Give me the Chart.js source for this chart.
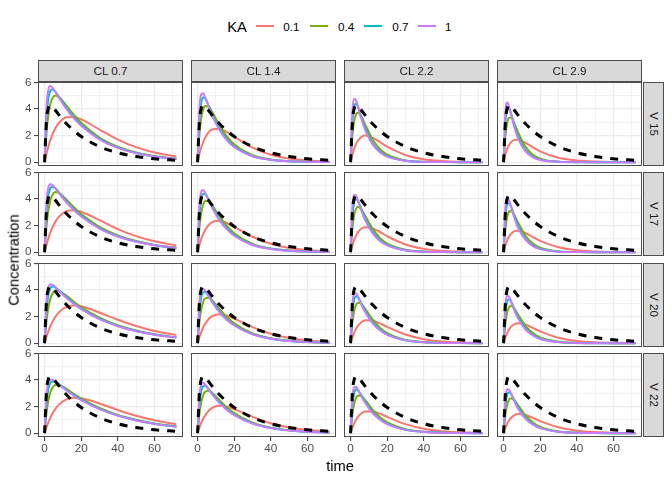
<!DOCTYPE html>
<html lang="en">
<head>
    <meta charset="UTF-8">
    <title>Concentration by CL, V and KA</title>
    <script src="https://cdn.jsdelivr.net/npm/chart.js@4.4.1/dist/chart.umd.min.js"></script>
    <style>
        * {
            margin: 0;
            padding: 0;
            box-sizing: border-box;
        }

        body {
            width: 672px;
            height: 480px;
            background: #fff;
            position: relative;
            overflow: hidden;
            font-family: "Liberation Sans", Arial, sans-serif;
        }

        .box {
            position: absolute;
        }

        /* facet strips */
        .strip {
            position: absolute;
            background: #D9D9D9;
            border: 1px solid #4D4D4D;
        }

        .txt {
            position: absolute;
            white-space: nowrap;
            line-height: 1;
        }

        .key {
            position: absolute;
            height: 2px;
            width: 18px;
        }
    </style>
</head>
<body>
    <script>
        // ---- data ----
        const times = [0, 1, 2, 3, 4, 6, 8, 12, 16, 20, 30, 40, 50, 60, 72];
        const kaLevels = ['0.1', '0.4', '0.7', '1'];
        const clLevels = ['0.7', '1.4', '2.2', '2.9'];
        const vLevels = ['15', '17', '20', '22'];

        const xGrid = [0, 10, 20, 30, 40, 50, 60, 70];
        const xLabels = ['0', '', '20', '', '40', '', '60', ''];
        const yGrid = [0, 1, 2, 3, 4, 5, 6];
        const yLabels = ['0', '', '2', '', '4', '', '6'];

        // dashed black curve, the same in every panel
        const reference = [0, 3.07, 4.05, 4.27, 4.21, 3.89, 3.53, 2.89, 2.37, 1.94, 1.17, 0.71, 0.43, 0.26, 0.14];

        // one array per KA level (0.1, 0.4, 0.7, 1) in each panel
        const V15_CL07 = [
            [0, 0.62, 1.15, 1.61, 1.99, 2.59, 2.99, 3.38, 3.40, 3.22, 2.46, 1.70, 1.13, 0.73, 0.43],
            [0, 2.14, 3.48, 4.29, 4.74, 5.02, 4.89, 4.25, 3.56, 2.97, 1.86, 1.17, 0.73, 0.46, 0.26],
            [0, 3.27, 4.75, 5.34, 5.49, 5.29, 4.89, 4.08, 3.39, 2.81, 1.76, 1.10, 0.69, 0.43, 0.25],
            [0, 4.10, 5.42, 5.73, 5.67, 5.27, 4.81, 3.99, 3.31, 2.75, 1.72, 1.08, 0.68, 0.43, 0.24]
        ];
        const V15_CL14 = [
            [0, 0.61, 1.10, 1.50, 1.81, 2.24, 2.46, 2.51, 2.27, 1.93, 1.10, 0.56, 0.27, 0.12, 0.05],
            [0, 2.09, 3.31, 3.95, 4.23, 4.18, 3.77, 2.77, 1.94, 1.34, 0.53, 0.21, 0.08, 0.03, 0.01],
            [0, 3.19, 4.49, 4.87, 4.83, 4.28, 3.62, 2.51, 1.73, 1.19, 0.47, 0.18, 0.07, 0.03, 0.01],
            [0, 3.99, 5.11, 5.19, 4.93, 4.18, 3.48, 2.40, 1.65, 1.14, 0.45, 0.18, 0.07, 0.03, 0.01]
        ];
        const V15_CL22 = [
            [0, 0.59, 1.04, 1.38, 1.63, 1.91, 2.00, 1.85, 1.52, 1.17, 0.54, 0.22, 0.09, 0.03, 0.01],
            [0, 2.04, 3.12, 3.61, 3.73, 3.41, 2.83, 1.72, 0.99, 0.56, 0.13, 0.03, 0.01, 0, 0],
            [0, 3.10, 4.21, 4.40, 4.18, 3.37, 2.58, 1.45, 0.81, 0.45, 0.10, 0.02, 0.01, 0, 0],
            [0, 3.87, 4.77, 4.64, 4.20, 3.22, 2.41, 1.34, 0.75, 0.42, 0.10, 0.02, 0.01, 0, 0]
        ];
        const V15_CL29 = [
            [0, 0.58, 1.00, 1.29, 1.49, 1.68, 1.69, 1.45, 1.12, 0.82, 0.33, 0.13, 0.05, 0.02, 0.01],
            [0, 1.99, 2.97, 3.34, 3.35, 2.88, 2.22, 1.16, 0.56, 0.27, 0.04, 0.01, 0, 0, 0],
            [0, 3.02, 3.99, 4.03, 3.69, 2.75, 1.93, 0.90, 0.42, 0.19, 0.03, 0, 0, 0, 0],
            [0, 3.77, 4.50, 4.22, 3.66, 2.57, 1.76, 0.81, 0.37, 0.17, 0.03, 0, 0, 0, 0]
        ];
        const V17_CL07 = [
            [0, 0.55, 1.02, 1.43, 1.78, 2.32, 2.70, 3.09, 3.16, 3.04, 2.41, 1.74, 1.21, 0.82, 0.51],
            [0, 1.90, 3.09, 3.82, 4.24, 4.53, 4.45, 3.95, 3.38, 2.88, 1.91, 1.26, 0.84, 0.55, 0.34],
            [0, 2.89, 4.22, 4.76, 4.92, 4.79, 4.47, 3.81, 3.23, 2.74, 1.82, 1.20, 0.80, 0.53, 0.32],
            [0, 3.63, 4.82, 5.12, 5.09, 4.78, 4.41, 3.74, 3.18, 2.69, 1.78, 1.18, 0.78, 0.52, 0.32]
        ];
        const V17_CL14 = [
            [0, 0.54, 0.98, 1.34, 1.63, 2.04, 2.27, 2.37, 2.20, 1.91, 1.16, 0.63, 0.32, 0.16, 0.06],
            [0, 1.86, 2.95, 3.56, 3.83, 3.85, 3.53, 2.70, 1.97, 1.42, 0.63, 0.28, 0.12, 0.05, 0.02],
            [0, 2.83, 4.01, 4.39, 4.39, 3.97, 3.43, 2.48, 1.79, 1.28, 0.56, 0.25, 0.11, 0.05, 0.02],
            [0, 3.55, 4.57, 4.69, 4.49, 3.90, 3.32, 2.39, 1.72, 1.24, 0.54, 0.24, 0.10, 0.05, 0.02]
        ];
        const V17_CL22 = [
            [0, 0.52, 0.94, 1.25, 1.49, 1.78, 1.88, 1.79, 1.52, 1.20, 0.58, 0.25, 0.10, 0.04, 0.01],
            [0, 1.81, 2.81, 3.28, 3.43, 3.21, 2.73, 1.77, 1.08, 0.65, 0.18, 0.05, 0.01, 0, 0],
            [0, 2.76, 3.79, 4.01, 3.86, 3.21, 2.54, 1.53, 0.91, 0.54, 0.15, 0.04, 0.01, 0, 0],
            [0, 3.45, 4.30, 4.25, 3.90, 3.09, 2.40, 1.43, 0.85, 0.51, 0.14, 0.04, 0.01, 0, 0]
        ];
        const V17_CL29 = [
            [0, 0.51, 0.90, 1.18, 1.37, 1.58, 1.62, 1.43, 1.14, 0.85, 0.37, 0.14, 0.05, 0.02, 0.01],
            [0, 1.77, 2.68, 3.06, 3.11, 2.76, 2.20, 1.24, 0.65, 0.34, 0.06, 0.01, 0, 0, 0],
            [0, 2.70, 3.61, 3.71, 3.46, 2.68, 1.96, 1.00, 0.51, 0.26, 0.05, 0.01, 0, 0, 0],
            [0, 3.37, 4.08, 3.90, 3.46, 2.53, 1.81, 0.92, 0.46, 0.23, 0.04, 0.01, 0, 0, 0]
        ];
        const V20_CL07 = [
            [0, 0.47, 0.88, 1.23, 1.53, 2.01, 2.36, 2.74, 2.84, 2.78, 2.31, 1.76, 1.29, 0.92, 0.61],
            [0, 1.62, 2.65, 3.28, 3.66, 3.95, 3.92, 3.56, 3.12, 2.72, 1.92, 1.35, 0.95, 0.67, 0.44],
            [0, 2.47, 3.61, 4.09, 4.26, 4.19, 3.96, 3.46, 3.01, 2.61, 1.84, 1.30, 0.92, 0.65, 0.42],
            [0, 3.10, 4.13, 4.41, 4.41, 4.19, 3.91, 3.40, 2.96, 2.57, 1.81, 1.28, 0.90, 0.64, 0.42]
        ];
        const V20_CL14 = [
            [0, 0.46, 0.84, 1.16, 1.42, 1.80, 2.03, 2.18, 2.07, 1.85, 1.21, 0.71, 0.39, 0.21, 0.10],
            [0, 1.59, 2.55, 3.09, 3.36, 3.43, 3.22, 2.57, 1.97, 1.49, 0.74, 0.37, 0.18, 0.09, 0.04],
            [0, 2.42, 3.46, 3.82, 3.86, 3.57, 3.15, 2.40, 1.81, 1.37, 0.68, 0.34, 0.17, 0.08, 0.04],
            [0, 3.04, 3.95, 4.09, 3.97, 3.52, 3.07, 2.32, 1.75, 1.33, 0.66, 0.33, 0.16, 0.08, 0.04]
        ];
        const V20_CL22 = [
            [0, 0.45, 0.81, 1.09, 1.31, 1.60, 1.73, 1.70, 1.49, 1.23, 0.65, 0.30, 0.13, 0.06, 0.02],
            [0, 1.56, 2.44, 2.88, 3.05, 2.94, 2.58, 1.79, 1.17, 0.76, 0.25, 0.09, 0.03, 0.01, 0],
            [0, 2.37, 3.30, 3.54, 3.46, 2.98, 2.44, 1.58, 1.02, 0.66, 0.22, 0.07, 0.02, 0.01, 0],
            [0, 2.97, 3.75, 3.76, 3.52, 2.89, 2.33, 1.50, 0.97, 0.62, 0.21, 0.07, 0.02, 0.01, 0]
        ];
        const V20_CL29 = [
            [0, 0.44, 0.78, 1.04, 1.23, 1.44, 1.51, 1.40, 1.15, 0.89, 0.41, 0.17, 0.07, 0.03, 0.01],
            [0, 1.53, 2.35, 2.71, 2.81, 2.58, 2.14, 1.31, 0.76, 0.43, 0.10, 0.02, 0.01, 0, 0],
            [0, 2.32, 3.16, 3.31, 3.15, 2.55, 1.95, 1.11, 0.62, 0.35, 0.08, 0.02, 0, 0, 0],
            [0, 2.91, 3.59, 3.49, 3.17, 2.44, 1.83, 1.03, 0.58, 0.32, 0.08, 0.02, 0, 0, 0]
        ];
        const V22_CL07 = [
            [0, 0.43, 0.80, 1.12, 1.40, 1.85, 2.17, 2.54, 2.66, 2.63, 2.24, 1.75, 1.31, 0.97, 0.67],
            [0, 1.47, 2.42, 3.00, 3.35, 3.63, 3.63, 3.33, 2.96, 2.61, 1.90, 1.38, 1.01, 0.73, 0.50],
            [0, 2.25, 3.29, 3.75, 3.90, 3.86, 3.67, 3.25, 2.86, 2.52, 1.83, 1.33, 0.97, 0.71, 0.48],
            [0, 2.82, 3.77, 4.03, 4.05, 3.87, 3.64, 3.21, 2.82, 2.48, 1.81, 1.32, 0.96, 0.70, 0.48]
        ];
        const V22_CL14 = [
            [0, 0.42, 0.77, 1.07, 1.31, 1.67, 1.90, 2.06, 1.99, 1.81, 1.23, 0.75, 0.43, 0.24, 0.12],
            [0, 1.45, 2.33, 2.84, 3.10, 3.20, 3.03, 2.48, 1.94, 1.51, 0.80, 0.42, 0.22, 0.12, 0.06],
            [0, 2.21, 3.17, 3.52, 3.57, 3.34, 2.99, 2.33, 1.81, 1.40, 0.74, 0.39, 0.21, 0.11, 0.05],
            [0, 2.77, 3.62, 3.77, 3.68, 3.30, 2.92, 2.26, 1.75, 1.36, 0.72, 0.38, 0.20, 0.11, 0.05]
        ];
        const V22_CL22 = [
            [0, 0.41, 0.74, 1.01, 1.22, 1.50, 1.63, 1.64, 1.47, 1.23, 0.68, 0.33, 0.15, 0.07, 0.02],
            [0, 1.42, 2.24, 2.66, 2.84, 2.78, 2.48, 1.78, 1.21, 0.82, 0.30, 0.11, 0.04, 0.02, 0],
            [0, 2.17, 3.03, 3.28, 3.23, 2.83, 2.36, 1.60, 1.07, 0.72, 0.26, 0.10, 0.04, 0.01, 0],
            [0, 2.71, 3.45, 3.49, 3.29, 2.76, 2.27, 1.52, 1.02, 0.68, 0.25, 0.09, 0.03, 0.01, 0]
        ];
        const V22_CL29 = [
            [0, 0.41, 0.72, 0.96, 1.14, 1.36, 1.44, 1.37, 1.15, 0.91, 0.44, 0.19, 0.08, 0.03, 0.01],
            [0, 1.40, 2.16, 2.52, 2.63, 2.46, 2.09, 1.34, 0.81, 0.48, 0.13, 0.04, 0.01, 0, 0],
            [0, 2.13, 2.92, 3.09, 2.97, 2.46, 1.93, 1.15, 0.68, 0.40, 0.11, 0.03, 0.01, 0, 0],
            [0, 2.66, 3.31, 3.27, 2.99, 2.36, 1.82, 1.08, 0.64, 0.38, 0.10, 0.03, 0.01, 0, 0]
        ];

        // rows = V, columns = CL
        const panelData = [
            [V15_CL07, V15_CL14, V15_CL22, V15_CL29],
            [V17_CL07, V17_CL14, V17_CL22, V17_CL29],
            [V20_CL07, V20_CL14, V20_CL22, V20_CL29],
            [V22_CL07, V22_CL14, V22_CL22, V22_CL29]
        ];

        // ---- look ----
        const kaColors = ['#F8766D', '#7CAE00', '#00BFC4', '#C77CFF'];
        const xMin = -3.6, xMax = 75.6;
        const yMin = -0.2875, yMax = 6.0375;

        const panelLeft = [38, 191, 344, 497];
        const panelTop = [82, 172, 263, 353];
        const panelW = 145, panelH = 84;

        Chart.defaults.font.family = '"Liberation Sans", Arial, sans-serif';

        function addText(str, cx, cy, size, color, rotate) {
            const el = document.createElement('div');
            el.className = 'txt';
            el.textContent = str;
            el.style.left = cx + 'px';
            el.style.top = cy + 'px';
            el.style.fontSize = size + 'px';
            el.style.color = color;
            el.style.transform = 'translate(-50%, -50%)' + (rotate ? ' rotate(' + rotate + 'deg)' : '');
            document.body.appendChild(el);
        }

        function addStrip(left, top, w, h) {
            const el = document.createElement('div');
            el.className = 'strip';
            el.style.left = left + 'px';
            el.style.top = top + 'px';
            el.style.width = w + 'px';
            el.style.height = h + 'px';
            document.body.appendChild(el);
        }

        // border drawn over the lines, like ggplot's panel.border
        const panelBorder = {
            id: 'panelBorder',
            afterDatasetsDraw(chart) {
                const a = chart.chartArea;
                const ctx = chart.ctx;
                ctx.save();
                ctx.strokeStyle = '#4D4D4D';
                ctx.lineWidth = 1;
                ctx.strokeRect(a.left + 0.5, a.top + 0.5, a.right - a.left - 1, a.bottom - a.top - 1);
                ctx.restore();
            }
        };

        function gridStyle(labels, drawTicks) {
            return {
                color: '#EBEBEB',
                lineWidth: ctx => (ctx.tick && labels[ctx.index] !== '') ? 1.2 : 0.6,
                drawTicks: drawTicks,
                tickLength: 4,
                tickWidth: 1,
                tickColor: ctx => (ctx.tick && labels[ctx.index] !== '') ? '#333333' : 'rgba(0,0,0,0)'
            };
        }

        function makePanel(r, c) {
            const showY = c === 0;
            const showX = r === 3;
            const yW = showY ? 32 : 0;
            const xH = showX ? 24 : 0;
            const padTop = showY ? 8 : 0;
            const padBottom = (showY && !showX) ? 8 : 0;

            const wrap = document.createElement('div');
            wrap.className = 'box';
            wrap.style.left = (panelLeft[c] - yW) + 'px';
            wrap.style.top = (panelTop[r] - padTop) + 'px';
            wrap.style.width = (panelW + yW) + 'px';
            wrap.style.height = (panelH + padTop + xH + padBottom) + 'px';
            const canvas = document.createElement('canvas');
            wrap.appendChild(canvas);
            document.body.appendChild(wrap);

            const series = panelData[r][c];
            const datasets = series.map((vals, i) => ({
                label: 'KA ' + kaLevels[i],
                data: times.map((t, j) => ({ x: t, y: vals[j] })),
                borderColor: kaColors[i],
                borderWidth: 2,
                pointRadius: 0,
                cubicInterpolationMode: 'monotone',
                fill: false,
                order: 4 - i
            }));
            datasets.push({
                label: 'reference',
                data: times.map((t, j) => ({ x: t, y: reference[j] })),
                borderColor: '#000000',
                borderWidth: 3,
                borderDash: [8, 8],
                pointRadius: 0,
                cubicInterpolationMode: 'monotone',
                fill: false,
                order: 0
            });

            new Chart(canvas, {
                type: 'line',
                data: { datasets: datasets },
                options: {
                    responsive: true,
                    maintainAspectRatio: false,
                    animation: false,
                    events: [],
                    layout: { padding: { top: padTop, bottom: padBottom, left: 0, right: 0 } },
                    plugins: {
                        legend: { display: false },
                        tooltip: { enabled: false }
                    },
                    scales: {
                        x: {
                            type: 'linear',
                            min: xMin,
                            max: xMax,
                            border: { display: false },
                            afterBuildTicks: ax => { ax.ticks = xGrid.map(v => ({ value: v })); },
                            afterFit: ax => { ax.height = xH; ax.paddingLeft = 0; ax.paddingRight = 0; },
                            ticks: {
                                display: showX,
                                autoSkip: false,
                                maxRotation: 0,
                                padding: 1,
                                color: '#4D4D4D',
                                font: { size: 11.7 },
                                callback: (v, i) => xLabels[i]
                            },
                            grid: gridStyle(xLabels, showX)
                        },
                        y: {
                            type: 'linear',
                            min: yMin,
                            max: yMax,
                            border: { display: false },
                            afterBuildTicks: ax => { ax.ticks = yGrid.map(v => ({ value: v })); },
                            afterFit: ax => { ax.width = yW; ax.paddingTop = 0; ax.paddingBottom = 0; },
                            ticks: {
                                display: showY,
                                autoSkip: false,
                                padding: 2.5,
                                color: '#4D4D4D',
                                font: { size: 11.7 },
                                callback: (v, i) => yLabels[i]
                            },
                            grid: gridStyle(yLabels, showY)
                        }
                    }
                },
                plugins: [panelBorder]
            });
        }

        for (let r = 0; r < 4; r++) {
            for (let c = 0; c < 4; c++) {
                makePanel(r, c);
            }
        }

        // strips
        for (let c = 0; c < 4; c++) {
            addStrip(panelLeft[c], 60, panelW, 22);
            addText('CL ' + clLevels[c], panelLeft[c] + panelW / 2, 71, 11.7, '#1A1A1A');
        }
        for (let r = 0; r < 4; r++) {
            addStrip(643, panelTop[r], 21, panelH);
            addText('V ' + vLevels[r], 653.5, panelTop[r] + panelH / 2, 11.7, '#1A1A1A', 90);
        }

        // axis titles
        addText('time', 340, 466, 14.7, '#000');
        addText('Concentration', 13.5, 260, 14.7, '#000', -90);

        // legend
        addText('KA', 237, 27, 14.7, '#000');
        const keyLeft = [256, 310, 364, 418];
        const keyTextX = [291.3, 346.2, 400.3, 448.3];
        kaLevels.forEach((lab, i) => {
            const k = document.createElement('div');
            k.className = 'key';
            k.style.left = keyLeft[i] + 'px';
            k.style.top = '25px';
            k.style.background = kaColors[i];
            document.body.appendChild(k);
            addText(lab, keyTextX[i], 27, 11.7, '#000');
        });
    </script>
</body>
</html>
